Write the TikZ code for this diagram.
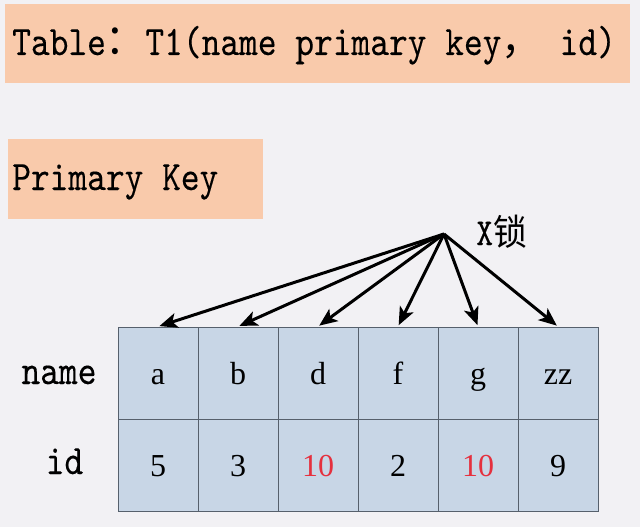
\documentclass[tikz,border=0pt]{standalone}
\usepackage{fontspec}
\usetikzlibrary{arrows.meta}
\setmainfont{Liberation Serif}
\newfontfamily\monof[Extension=.otf, FakeStretch=0.85, FakeBold=0.2]{lmmono10-regular}
\newfontfamily\cjkf[FakeStretch=0.94]{Noto Sans CJK SC}
\definecolor{bgc}{HTML}{F2F1F4}
\definecolor{peach}{HTML}{F9CAAB}
\definecolor{cellc}{HTML}{C8D6E6}
\definecolor{cellline}{HTML}{56606C}
\definecolor{redc}{HTML}{E5303E}
\tikzset{
  hbox/.style={fill=peach, draw=none, inner sep=0, anchor=north west},
  htext/.style={anchor=base west, inner sep=0, font=\fontsize{42}{42}\selectfont\monof},
  rowlab/.style={anchor=base, inner sep=0, font=\fontsize{42}{42}\selectfont\monof},
  cell/.style={draw=cellline, line width=0.9pt, fill=cellc, minimum width=80pt, minimum height=92pt,
    inner sep=0, text height=22pt, text depth=0pt, font=\fontsize{32}{32}\selectfont},
  lockarrow/.style={line width=3pt, -{Stealth[length=18pt,width=15pt,inset=4.5pt]}, shorten >=1.5pt}
}
\begin{document}
\begin{tikzpicture}[x=1pt,y=-1pt]
\fill[bgc] (0,0) rectangle (640,527);
\useasboundingbox (0,0) rectangle (640,527);
\node[hbox, minimum width=625pt, minimum height=79pt] (titlebox) at (5,4) {};
\node[htext] (title) at (12,55) {Table{\cjkf ：}T1(name primary key{\cjkf ，} id)};
\node[hbox, minimum width=255pt, minimum height=80pt] (pkbox) at (8,139) {};
\node[htext] (pk) at (12,190) {Primary Key};
\node[rowlab] (lname) at (59,384) {name};
\node[rowlab] (lid) at (64.5,474) {id};
\node[cell] (a) at (158,373) {a};
\node[cell] (b) at (238,373) {b};
\node[cell] (d) at (318,373) {d};
\node[cell] (f) at (398,373) {f};
\node[cell] (g) at (478,373) {g};
\node[cell] (zz) at (558,373) {zz};
\node[cell] (i1) at (158,465.5) {5};
\node[cell] (i2) at (238,465.5) {3};
\node[cell] (i3) at (318,465.5) {\textcolor{redc}{10}};
\node[cell] (i4) at (398,465.5) {2};
\node[cell] (i5) at (478,465.5) {\textcolor{redc}{10}};
\node[cell] (i6) at (558,465.5) {9};
\coordinate (src) at (444,234);
\node[anchor=base west, inner sep=0] (xlock) at (476,245) {{\fontsize{38}{38}\selectfont\monof X}{\fontsize{36}{36}\selectfont\cjkf 锁}};
\foreach \t in {a,b,d,f,g,zz} \draw[lockarrow] (src) -- (\t.north);
\end{tikzpicture}
\end{document}
